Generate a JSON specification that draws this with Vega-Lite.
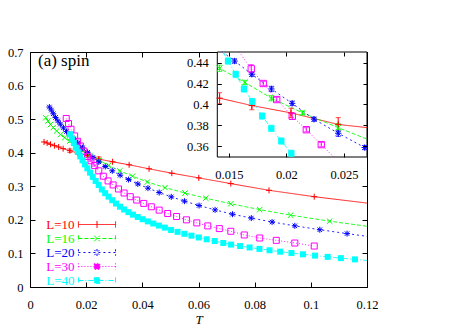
{
  "$schema": "https://vega.github.io/schema/vega-lite/v6.json",
  "background": "white",
  "padding": {"left": 7, "top": 46, "right": 10, "bottom": 0},
  "width": 337,
  "height": 235,
  "config": {
    "font": "Liberation Serif",
    "view": {"stroke": "black", "strokeWidth": 1},
    "axis": {"grid": false, "domain": false, "ticks": true, "tickColor": "black", "tickSize": -5, "tickWidth": 1, "labelPadding": 12, "labelFont": "Liberation Serif", "labelFontSize": 12.5, "labelColor": "black", "labelFlush": false, "labelOverlap": false, "titleFont": "Liberation Serif", "titleColor": "black"}
  },
  "title": {"text": "(a) spin", "anchor": "start", "frame": "group", "orient": "top", "offset": -24, "dx": 8, "font": "Liberation Serif", "fontSize": 17, "fontWeight": "normal", "color": "black"},
  "data": {"values": [
      {"L": "L=10", "T": 0.0050, "y": 0.432},
      {"L": "L=10", "T": 0.0061, "y": 0.429},
      {"L": "L=10", "T": 0.0073, "y": 0.425},
      {"L": "L=10", "T": 0.0087, "y": 0.421},
      {"L": "L=10", "T": 0.0102, "y": 0.417},
      {"L": "L=10", "T": 0.0118, "y": 0.412},
      {"L": "L=10", "T": 0.0142, "y": 0.406, "e": 0.0052},
      {"L": "L=10", "T": 0.0170, "y": 0.399, "e": 0.004},
      {"L": "L=10", "T": 0.0204, "y": 0.392, "e": 0.0045},
      {"L": "L=10", "T": 0.0245, "y": 0.381, "e": 0.0065},
      {"L": "L=10", "T": 0.0294, "y": 0.373},
      {"L": "L=10", "T": 0.0353, "y": 0.364},
      {"L": "L=10", "T": 0.0424, "y": 0.352},
      {"L": "L=10", "T": 0.0505, "y": 0.339},
      {"L": "L=10", "T": 0.0601, "y": 0.325},
      {"L": "L=10", "T": 0.0715, "y": 0.308},
      {"L": "L=10", "T": 0.0851, "y": 0.288},
      {"L": "L=10", "T": 0.1012, "y": 0.269},
      {"L": "L=10", "T": 0.12, "y": 0.25, "fit": 1},
      {"L": "L=10", "T": 0.014, "y": 0.4065, "edge": 1},
      {"L": "L=10", "T": 0.027, "y": 0.378, "edge": 1},
      {"L": "L=16", "T": 0.0056, "y": 0.504},
      {"L": "L=16", "T": 0.0064, "y": 0.494},
      {"L": "L=16", "T": 0.0073, "y": 0.484},
      {"L": "L=16", "T": 0.0083, "y": 0.475},
      {"L": "L=16", "T": 0.0095, "y": 0.465},
      {"L": "L=16", "T": 0.0109, "y": 0.454},
      {"L": "L=16", "T": 0.0124, "y": 0.445},
      {"L": "L=16", "T": 0.0142, "y": 0.4345, "e": 0.003},
      {"L": "L=16", "T": 0.0164, "y": 0.421, "e": 0.002},
      {"L": "L=16", "T": 0.0187, "y": 0.406, "e": 0.0025},
      {"L": "L=16", "T": 0.0214, "y": 0.392, "e": 0.002},
      {"L": "L=16", "T": 0.0245, "y": 0.378, "e": 0.004},
      {"L": "L=16", "T": 0.0280, "y": 0.362},
      {"L": "L=16", "T": 0.0320, "y": 0.346},
      {"L": "L=16", "T": 0.0365, "y": 0.330},
      {"L": "L=16", "T": 0.0418, "y": 0.313},
      {"L": "L=16", "T": 0.0481, "y": 0.296},
      {"L": "L=16", "T": 0.0552, "y": 0.280},
      {"L": "L=16", "T": 0.0626, "y": 0.2645},
      {"L": "L=16", "T": 0.0715, "y": 0.248},
      {"L": "L=16", "T": 0.0818, "y": 0.2305},
      {"L": "L=16", "T": 0.0928, "y": 0.214},
      {"L": "L=16", "T": 0.1067, "y": 0.196},
      {"L": "L=16", "T": 0.12, "y": 0.181, "fit": 1},
      {"L": "L=16", "T": 0.014, "y": 0.4357, "edge": 1},
      {"L": "L=16", "T": 0.027, "y": 0.367, "edge": 1},
      {"L": "L=20", "T": 0.0069, "y": 0.536},
      {"L": "L=20", "T": 0.0076, "y": 0.527},
      {"L": "L=20", "T": 0.0083, "y": 0.516},
      {"L": "L=20", "T": 0.0091, "y": 0.505},
      {"L": "L=20", "T": 0.0099, "y": 0.495},
      {"L": "L=20", "T": 0.0108, "y": 0.485},
      {"L": "L=20", "T": 0.0119, "y": 0.474},
      {"L": "L=20", "T": 0.0130, "y": 0.463},
      {"L": "L=20", "T": 0.0142, "y": 0.452},
      {"L": "L=20", "T": 0.0155, "y": 0.4414, "e": 0.002},
      {"L": "L=20", "T": 0.0170, "y": 0.4288, "e": 0.002},
      {"L": "L=20", "T": 0.0187, "y": 0.4148, "e": 0.0025},
      {"L": "L=20", "T": 0.0205, "y": 0.4011, "e": 0.002},
      {"L": "L=20", "T": 0.0224, "y": 0.386, "e": 0.002},
      {"L": "L=20", "T": 0.0245, "y": 0.3726, "e": 0.003},
      {"L": "L=20", "T": 0.0268, "y": 0.359, "e": 0.002},
      {"L": "L=20", "T": 0.0293, "y": 0.346},
      {"L": "L=20", "T": 0.0321, "y": 0.333},
      {"L": "L=20", "T": 0.0351, "y": 0.320},
      {"L": "L=20", "T": 0.0384, "y": 0.307},
      {"L": "L=20", "T": 0.0420, "y": 0.2945},
      {"L": "L=20", "T": 0.0460, "y": 0.2814},
      {"L": "L=20", "T": 0.0503, "y": 0.2685},
      {"L": "L=20", "T": 0.0550, "y": 0.2557},
      {"L": "L=20", "T": 0.0602, "y": 0.2427},
      {"L": "L=20", "T": 0.0659, "y": 0.2297},
      {"L": "L=20", "T": 0.0721, "y": 0.2168},
      {"L": "L=20", "T": 0.0788, "y": 0.2053},
      {"L": "L=20", "T": 0.0862, "y": 0.1937},
      {"L": "L=20", "T": 0.0943, "y": 0.1822},
      {"L": "L=20", "T": 0.1032, "y": 0.1706},
      {"L": "L=20", "T": 0.1129, "y": 0.159},
      {"L": "L=20", "T": 0.12, "y": 0.151, "fit": 1},
      {"L": "L=20", "T": 0.01445, "y": 0.45, "edge": 1},
      {"L": "L=20", "T": 0.027, "y": 0.358, "edge": 1},
      {"L": "L=30", "T": 0.0129, "y": 0.502},
      {"L": "L=30", "T": 0.0137, "y": 0.487},
      {"L": "L=30", "T": 0.0146, "y": 0.470},
      {"L": "L=30", "T": 0.0159, "y": 0.450},
      {"L": "L=30", "T": 0.01695, "y": 0.434, "e": 0.004},
      {"L": "L=30", "T": 0.01799, "y": 0.420, "e": 0.002},
      {"L": "L=30", "T": 0.01916, "y": 0.4047, "e": 0.002},
      {"L": "L=30", "T": 0.02051, "y": 0.3888, "e": 0.003},
      {"L": "L=30", "T": 0.02173, "y": 0.376, "e": 0.002},
      {"L": "L=30", "T": 0.02303, "y": 0.3618, "e": 0.002},
      {"L": "L=30", "T": 0.0245, "y": 0.346},
      {"L": "L=30", "T": 0.0261, "y": 0.330},
      {"L": "L=30", "T": 0.0278, "y": 0.316},
      {"L": "L=30", "T": 0.0296, "y": 0.304},
      {"L": "L=30", "T": 0.0315, "y": 0.292},
      {"L": "L=30", "T": 0.0335, "y": 0.280},
      {"L": "L=30", "T": 0.0357, "y": 0.269},
      {"L": "L=30", "T": 0.0380, "y": 0.259},
      {"L": "L=30", "T": 0.0405, "y": 0.249},
      {"L": "L=30", "T": 0.0432, "y": 0.239},
      {"L": "L=30", "T": 0.0460, "y": 0.229},
      {"L": "L=30", "T": 0.0490, "y": 0.219},
      {"L": "L=30", "T": 0.0522, "y": 0.210},
      {"L": "L=30", "T": 0.0557, "y": 0.200},
      {"L": "L=30", "T": 0.0594, "y": 0.191},
      {"L": "L=30", "T": 0.0633, "y": 0.182},
      {"L": "L=30", "T": 0.0674, "y": 0.174},
      {"L": "L=30", "T": 0.0715, "y": 0.166},
      {"L": "L=30", "T": 0.0763, "y": 0.155},
      {"L": "L=30", "T": 0.0818, "y": 0.146},
      {"L": "L=30", "T": 0.0877, "y": 0.139},
      {"L": "L=30", "T": 0.0943, "y": 0.131},
      {"L": "L=30", "T": 0.1012, "y": 0.122},
      {"L": "L=30", "T": 0.02411, "y": 0.35, "edge": 1},
      {"L": "L=40", "T": 0.01427, "y": 0.455},
      {"L": "L=40", "T": 0.01493, "y": 0.4414, "e": 0.003},
      {"L": "L=40", "T": 0.0156, "y": 0.4288, "e": 0.003},
      {"L": "L=40", "T": 0.01632, "y": 0.4148, "e": 0.003},
      {"L": "L=40", "T": 0.01704, "y": 0.4028, "e": 0.003},
      {"L": "L=40", "T": 0.0179, "y": 0.389, "e": 0.003},
      {"L": "L=40", "T": 0.01869, "y": 0.3773, "e": 0.003},
      {"L": "L=40", "T": 0.01956, "y": 0.3652, "e": 0.003},
      {"L": "L=40", "T": 0.02043, "y": 0.3535, "e": 0.003},
      {"L": "L=40", "T": 0.02137, "y": 0.3407},
      {"L": "L=40", "T": 0.02235, "y": 0.3281},
      {"L": "L=40", "T": 0.02338, "y": 0.3159},
      {"L": "L=40", "T": 0.02446, "y": 0.3040},
      {"L": "L=40", "T": 0.02558, "y": 0.2905},
      {"L": "L=40", "T": 0.02676, "y": 0.2795},
      {"L": "L=40", "T": 0.02799, "y": 0.2691},
      {"L": "L=40", "T": 0.02928, "y": 0.2585},
      {"L": "L=40", "T": 0.03063, "y": 0.2485},
      {"L": "L=40", "T": 0.03204, "y": 0.2392},
      {"L": "L=40", "T": 0.03351, "y": 0.2309},
      {"L": "L=40", "T": 0.03505, "y": 0.2230},
      {"L": "L=40", "T": 0.03666, "y": 0.2156},
      {"L": "L=40", "T": 0.03835, "y": 0.2086},
      {"L": "L=40", "T": 0.04011, "y": 0.2019},
      {"L": "L=40", "T": 0.04196, "y": 0.1955},
      {"L": "L=40", "T": 0.04389, "y": 0.1892},
      {"L": "L=40", "T": 0.04591, "y": 0.1830},
      {"L": "L=40", "T": 0.04802, "y": 0.1769},
      {"L": "L=40", "T": 0.05023, "y": 0.1700},
      {"L": "L=40", "T": 0.05254, "y": 0.1642},
      {"L": "L=40", "T": 0.05496, "y": 0.1585},
      {"L": "L=40", "T": 0.05749, "y": 0.1529},
      {"L": "L=40", "T": 0.06013, "y": 0.1475},
      {"L": "L=40", "T": 0.0629, "y": 0.1422},
      {"L": "L=40", "T": 0.06579, "y": 0.1371},
      {"L": "L=40", "T": 0.06882, "y": 0.1311},
      {"L": "L=40", "T": 0.0716, "y": 0.1264},
      {"L": "L=40", "T": 0.0748, "y": 0.1220},
      {"L": "L=40", "T": 0.0782, "y": 0.1177},
      {"L": "L=40", "T": 0.0817, "y": 0.1135},
      {"L": "L=40", "T": 0.0853, "y": 0.1094},
      {"L": "L=40", "T": 0.0891, "y": 0.1053},
      {"L": "L=40", "T": 0.0931, "y": 0.1013},
      {"L": "L=40", "T": 0.0972, "y": 0.0974},
      {"L": "L=40", "T": 0.1015, "y": 0.0935},
      {"L": "L=40", "T": 0.1060, "y": 0.0897},
      {"L": "L=40", "T": 0.1107, "y": 0.0860},
      {"L": "L=40", "T": 0.1157, "y": 0.0823},
      {"L": "L=40", "T": 0.12, "y": 0.079, "fit": 1},
      {"L": "L=40", "T": 0.01451, "y": 0.45, "edge": 1},
      {"L": "L=40", "T": 0.02069, "y": 0.35, "edge": 1}
  ]},
  "layer": [
    {
      "transform": [{"filter": "!datum.edge"}],
      "layer": [
        {
          "mark": {"type": "line", "strokeWidth": 1, "opacity": 0.85, "clip": true},
          "encoding": {
            "x": {"field": "T", "type": "quantitative", "scale": {"domain": [0, 0.12], "nice": false, "zero": false},
                  "axis": {"values": [0, 0.02, 0.04, 0.06, 0.08, 0.1, 0.12], "format": ".2~f", "labelPadding": 16, "title": "T", "titleFontStyle": "italic", "titleFontWeight": "normal", "titleFontSize": 13, "titlePadding": 3}},
            "y": {"field": "y", "type": "quantitative", "scale": {"domain": [0, 0.7], "nice": false, "zero": false},
                  "axis": {"values": [0, 0.1, 0.2, 0.3, 0.4, 0.5, 0.6, 0.7], "format": "~g", "title": null}},
            "color": {"field": "L", "type": "nominal",
                      "scale": {"domain": ["L=10", "L=16", "L=20", "L=30", "L=40"], "range": ["#ff0000", "#00ff00", "#0000ff", "#ff00ff", "#00ffff"]},
                      "legend": {
                        "orient": "none", "legendX": 60.5, "legendY": 166, "title": null,
                        "labelFont": "Liberation Serif", "labelFontSize": 13, "labelAlign": "right", "labelOffset": -29,
                        "symbolSize": 49, "symbolStrokeWidth": 1, "rowPadding": -0.6,
                        "encoding": {
                          "labels": {"fill": {"value": {"expr": "datum.value === 'L=10' ? '#ff0000' : datum.value === 'L=16' ? '#00ff00' : datum.value === 'L=20' ? '#0000ff' : datum.value === 'L=30' ? '#ff00ff' : '#00ffff'"}}},
                          "symbols": {
                            "shape": {"value": {"expr": "datum.value === 'L=10' ? 'M-5.3,0L5.3,0M-5.3,-0.9L-5.3,0.9M5.3,-0.9L5.3,0.9M0,-1L0,1' : datum.value === 'L=16' ? 'M-5.3,0L5.3,0M-5.3,-0.9L-5.3,0.9M5.3,-0.9L5.3,0.9M-0.8,-0.8L0.8,0.8M-0.8,0.8L0.8,-0.8' : datum.value === 'L=20' ? 'M-5.3,0L5.3,0M-5.3,-0.9L-5.3,0.9M5.3,-0.9L5.3,0.9M0,-1L0,1M-0.75,-0.75L0.75,0.75M-0.75,0.75L0.75,-0.75' : 'M-5.3,0L5.3,0M-5.3,-0.9L-5.3,0.9M5.3,-0.9L5.3,0.9M-0.8,-0.8L0.8,-0.8L0.8,0.8L-0.8,0.8Z'"}},
                            "stroke": {"value": {"expr": "datum.value === 'L=10' ? '#ff0000' : datum.value === 'L=16' ? '#00ff00' : datum.value === 'L=20' ? '#0000ff' : datum.value === 'L=30' ? '#ff00ff' : '#00ffff'"}},
                            "fill": {"value": {"expr": "datum.value === 'L=40' ? '#00ffff' : 'transparent'"}},
                            "strokeWidth": {"value": 1},
                            "opacity": {"value": 1}
                          }
                        }
                      }},
            "strokeDash": {"field": "L", "type": "nominal",
                           "scale": {"domain": ["L=10", "L=16", "L=20", "L=30", "L=40"], "range": [[1, 0], [4, 2], [2, 3], [1, 2], [5, 2, 1, 2]]},
                           "legend": null}
          }
        },
        {
          "transform": [{"filter": "isValid(datum.e)"}],
          "mark": {"type": "errorbar", "ticks": true, "thickness": 1, "clip": true},
          "encoding": {
            "x": {"field": "T", "type": "quantitative", "axis": null},
            "y": {"field": "y", "type": "quantitative", "axis": null},
            "yError": {"field": "e"},
            "color": {"field": "L", "type": "nominal", "legend": null}
          }
        },
        {
          "transform": [{"filter": "!datum.fit && datum.L !== 'L=40'"}],
          "mark": {"type": "point", "filled": false, "strokeWidth": 1, "size": 36, "opacity": 1, "clip": true},
          "encoding": {
            "x": {"field": "T", "type": "quantitative", "axis": null},
            "y": {"field": "y", "type": "quantitative", "axis": null},
            "color": {"field": "L", "type": "nominal", "legend": null},
            "shape": {"field": "L", "type": "nominal",
                      "scale": {"domain": ["L=10", "L=16", "L=20", "L=30"], "range": ["M-1,0L1,0M0,-1L0,1", "M-0.9,-0.9L0.9,0.9M-0.9,0.9L0.9,-0.9", "M-1,0L1,0M0,-1L0,1M-0.75,-0.75L0.75,0.75M-0.75,0.75L0.75,-0.75", "square"]},
                      "legend": null}
          }
        },
        {
          "transform": [{"filter": "!datum.fit && datum.L === 'L=40'"}],
          "mark": {"type": "square", "filled": true, "size": 36, "opacity": 1, "clip": true},
          "encoding": {
            "x": {"field": "T", "type": "quantitative", "axis": null},
            "y": {"field": "y", "type": "quantitative", "axis": null},
            "color": {"field": "L", "type": "nominal", "legend": null}
          }
        },
        {
          "mark": {"type": "point", "opacity": 0},
          "encoding": {
            "x": {"field": "T", "type": "quantitative", "axis": {"orient": "top", "values": [0, 0.02, 0.04, 0.06, 0.08, 0.1, 0.12], "labels": false, "title": null}},
            "y": {"field": "y", "type": "quantitative", "axis": {"orient": "right", "values": [0, 0.1, 0.2, 0.3, 0.4, 0.5, 0.6, 0.7], "labels": false, "title": null}}
          }
        }
      ],
      "resolve": {"axis": {"x": "independent", "y": "independent"}}
    },
    {
      "layer": [
        {
          "data": {"values": [{}]},
          "mark": {"type": "rect", "fill": "white", "stroke": "black", "strokeWidth": 1},
          "encoding": {
            "x": {"datum": 0.014, "type": "quantitative", "scale": {"domain": [0.014, 0.027], "range": [187.3, 337], "nice": false, "zero": false},
                  "axis": {"values": [0.015, 0.02, 0.025], "format": "~g", "title": null, "tickSize": -4, "labelPadding": 15, "offset": -130, "zindex": 1}},
            "x2": {"datum": 0.027},
            "y": {"datum": 0.35, "type": "quantitative", "scale": {"domain": [0.35, 0.45], "range": [105, 0], "nice": false, "zero": false},
                  "axis": {"values": [0.36, 0.38, 0.4, 0.42, 0.44], "format": "~g", "title": null, "tickSize": -4, "labelPadding": 13, "offset": -187.3, "zindex": 1}},
            "y2": {"datum": 0.45}
          }
        },
        {
          "transform": [{"filter": "datum.T >= 0.014 && datum.T <= 0.027 && datum.y >= 0.35 && datum.y <= 0.45"}],
          "mark": {"type": "line", "strokeWidth": 1, "opacity": 0.85},
          "encoding": {
            "x": {"field": "T", "type": "quantitative", "axis": null},
            "y": {"field": "y", "type": "quantitative", "axis": null},
            "color": {"field": "L", "type": "nominal", "legend": null},
            "strokeDash": {"field": "L", "type": "nominal", "legend": null}
          }
        },
        {
          "transform": [{"filter": "isValid(datum.e) && datum.T >= 0.014 && datum.T <= 0.027 && datum.y >= 0.35 && datum.y < 0.449"}],
          "mark": {"type": "errorbar", "ticks": true, "thickness": 1},
          "encoding": {
            "x": {"field": "T", "type": "quantitative", "axis": null},
            "y": {"field": "y", "type": "quantitative", "axis": null},
            "yError": {"field": "e"},
            "color": {"field": "L", "type": "nominal", "legend": null}
          }
        },
        {
          "transform": [{"filter": "!datum.edge && datum.L !== 'L=40' && datum.T >= 0.014 && datum.T <= 0.027 && datum.y >= 0.35 && datum.y < 0.449"}],
          "mark": {"type": "point", "filled": false, "strokeWidth": 1, "size": 40, "opacity": 1},
          "encoding": {
            "x": {"field": "T", "type": "quantitative", "axis": null},
            "y": {"field": "y", "type": "quantitative", "axis": null},
            "color": {"field": "L", "type": "nominal", "legend": null},
            "shape": {"field": "L", "type": "nominal", "legend": null}
          }
        },
        {
          "transform": [{"filter": "!datum.edge && datum.L === 'L=40' && datum.T >= 0.014 && datum.T <= 0.027 && datum.y >= 0.35 && datum.y < 0.449"}],
          "mark": {"type": "square", "filled": true, "size": 40, "opacity": 1},
          "encoding": {
            "x": {"field": "T", "type": "quantitative", "axis": null},
            "y": {"field": "y", "type": "quantitative", "axis": null},
            "color": {"field": "L", "type": "nominal", "legend": null}
          }
        },
        {
          "data": {"values": [{}]},
          "mark": {"type": "point", "opacity": 0},
          "encoding": {
            "x": {"datum": 0.02, "type": "quantitative", "axis": {"orient": "top", "values": [0.015, 0.02, 0.025], "labels": false, "title": null, "tickSize": -4, "zindex": 1}},
            "y": {"datum": 0.4, "type": "quantitative", "axis": {"orient": "right", "values": [0.36, 0.38, 0.4, 0.42, 0.44], "labels": false, "title": null, "tickSize": -4, "zindex": 1}}
          }
        }
      ],
      "resolve": {"axis": {"x": "independent", "y": "independent"}}
    }
  ],
  "resolve": {"scale": {"x": "independent", "y": "independent"}, "axis": {"x": "independent", "y": "independent"}}
}
